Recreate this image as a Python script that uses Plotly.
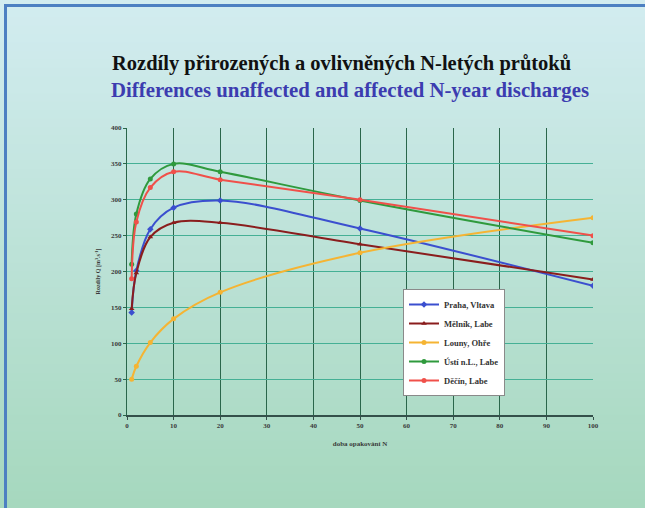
import plotly.graph_objects as go

# return periods N and differences of N-year discharges [m3/s]
n_years = [1, 2, 5, 10, 20, 50, 100]
praha_vltava = [143, 201, 259, 289, 299, 260, 180]
melnik_labe = [148, 198, 248, 268, 268, 238, 189]
louny_ohre = [50, 68, 101, 134, 171, 226, 275]
usti_labe = [210, 280, 329, 350, 339, 299, 240]
decin_labe = [190, 269, 317, 339, 328, 300, 250]

series = [
    ("Praha, Vltava", praha_vltava, "#3b4fcf", "diamond"),
    ("Mělník, Labe", melnik_labe, "#8a1d1d", "triangle-up"),
    ("Louny, Ohře", louny_ohre, "#f5b433", "circle"),
    ("Ústí n.L., Labe", usti_labe, "#2f9a3d", "circle"),
    ("Děčín, Labe", decin_labe, "#f0504a", "circle"),
]

W, H = 645, 508
L, R, T, B = 127, 52, 128, 93
pw, ph = W - L - R, H - T - B


def px_x(p):
    return (p - L) / pw


def px_y(p):
    return (H - B - p) / ph


serif = "Liberation Serif, Times New Roman, serif"

fig = go.Figure()
for i, (name, vals, col, sym) in enumerate(series):
    fig.add_trace(go.Scatter(
        x=n_years, y=vals, name=name, mode="lines+markers",
        line=dict(color=col, width=2, shape="spline", smoothing=1.0),
        marker=dict(color=col, symbol=sym, size=5),
        legendgroup=str(i),
    ))

# background gradient (light blue -> light green)
top_rgb = (210, 236, 240)
bot_rgb = (166, 216, 190)
bands = 60
shapes = []
for k in range(bands):
    t = k / (bands - 1)
    c = tuple(round(top_rgb[j] + (bot_rgb[j] - top_rgb[j]) * t) for j in range(3))
    y0 = k * H / bands
    y1 = (k + 1) * H / bands + 1
    shapes.append(dict(
        type="rect", xref="paper", yref="paper", layer="below",
        x0=px_x(0), x1=px_x(W), y0=px_y(y1), y1=px_y(y0),
        fillcolor="rgb(%d,%d,%d)" % c, line=dict(width=0),
    ))
# blue frame on top and left
shapes.append(dict(type="line", xref="paper", yref="paper", layer="above",
                   x0=px_x(4), x1=px_x(W), y0=px_y(5.5), y1=px_y(5.5),
                   line=dict(color="#4d80c2", width=3)))
shapes.append(dict(type="line", xref="paper", yref="paper", layer="above",
                   x0=px_x(5.5), x1=px_x(5.5), y0=px_y(4), y1=px_y(H),
                   line=dict(color="#4d80c2", width=3)))

tickfont = dict(family=serif, size=7, color="#3a3a3a", weight="bold")

fig.update_layout(
    width=W, height=H,
    margin=dict(l=L, r=R, t=T, b=B),
    paper_bgcolor="#d2ecef",
    plot_bgcolor="rgba(0,0,0,0)",
    shapes=shapes,
    showlegend=True,
    legend=dict(
        x=px_x(403), y=px_y(289), xanchor="left", yanchor="top",
        bgcolor="white", bordercolor="#8a8a8a", borderwidth=1,
        font=dict(family=serif, size=8.5, color="#333", weight="bold"),
        itemwidth=30, tracegroupgap=0, entrywidth=80,
    ),
    xaxis=dict(
        range=[0, 100], tickmode="linear", tick0=0, dtick=10,
        showgrid=True, gridcolor="#2a664b", gridwidth=1.4,
        zeroline=False, showline=True, linecolor="#34504a", linewidth=2,
        ticks="outside", ticklen=3, tickcolor="#34504a",
        tickfont=tickfont,
        title=dict(text="doba opakování N", font=dict(family=serif, size=7, color="#3a3a3a", weight="bold"), standoff=12),
    ),
    yaxis=dict(
        range=[0, 400], tickmode="linear", tick0=0, dtick=50,
        showgrid=True, gridcolor="#45b095", gridwidth=1,
        zeroline=False, showline=True, linecolor="#2a664b", linewidth=1.4,
        ticks="outside", ticklen=3, tickcolor="#2a664b",
        tickfont=tickfont,
        title=dict(text="Rozdíly Q [m<sup>3</sup>.s<sup>-1</sup>]", font=dict(family=serif, size=6, color="#3a3a3a", weight="bold"), standoff=9),
    ),
    yaxis2=dict(
        range=[0, 400], overlaying="y", anchor="x", side="left",
        tickmode="linear", tick0=0, dtick=100,
        showgrid=True, gridcolor="#3f5550", gridwidth=2,
        showticklabels=False, zeroline=False, showline=False,
    ),
    annotations=[
        dict(text="<b>Rozdíly přirozených a ovlivněných N-letých průtoků</b>",
             xref="paper", yref="paper", x=px_x(341), y=px_y(63),
             xanchor="center", yanchor="middle", showarrow=False,
             font=dict(family=serif, size=20.5, color="#111")),
        dict(text="<b>Differences unaffected and affected N-year discharges</b>",
             xref="paper", yref="paper", x=px_x(350), y=px_y(90),
             xanchor="center", yanchor="middle", showarrow=False,
             font=dict(family=serif, size=20.8, color="#3c3cb0")),
    ],
)

fig.write_html(
    "out.html",
    config={"displayModeBar": False},
    post_script="document.body.style.margin='0';document.body.style.overflow='hidden';",
)
